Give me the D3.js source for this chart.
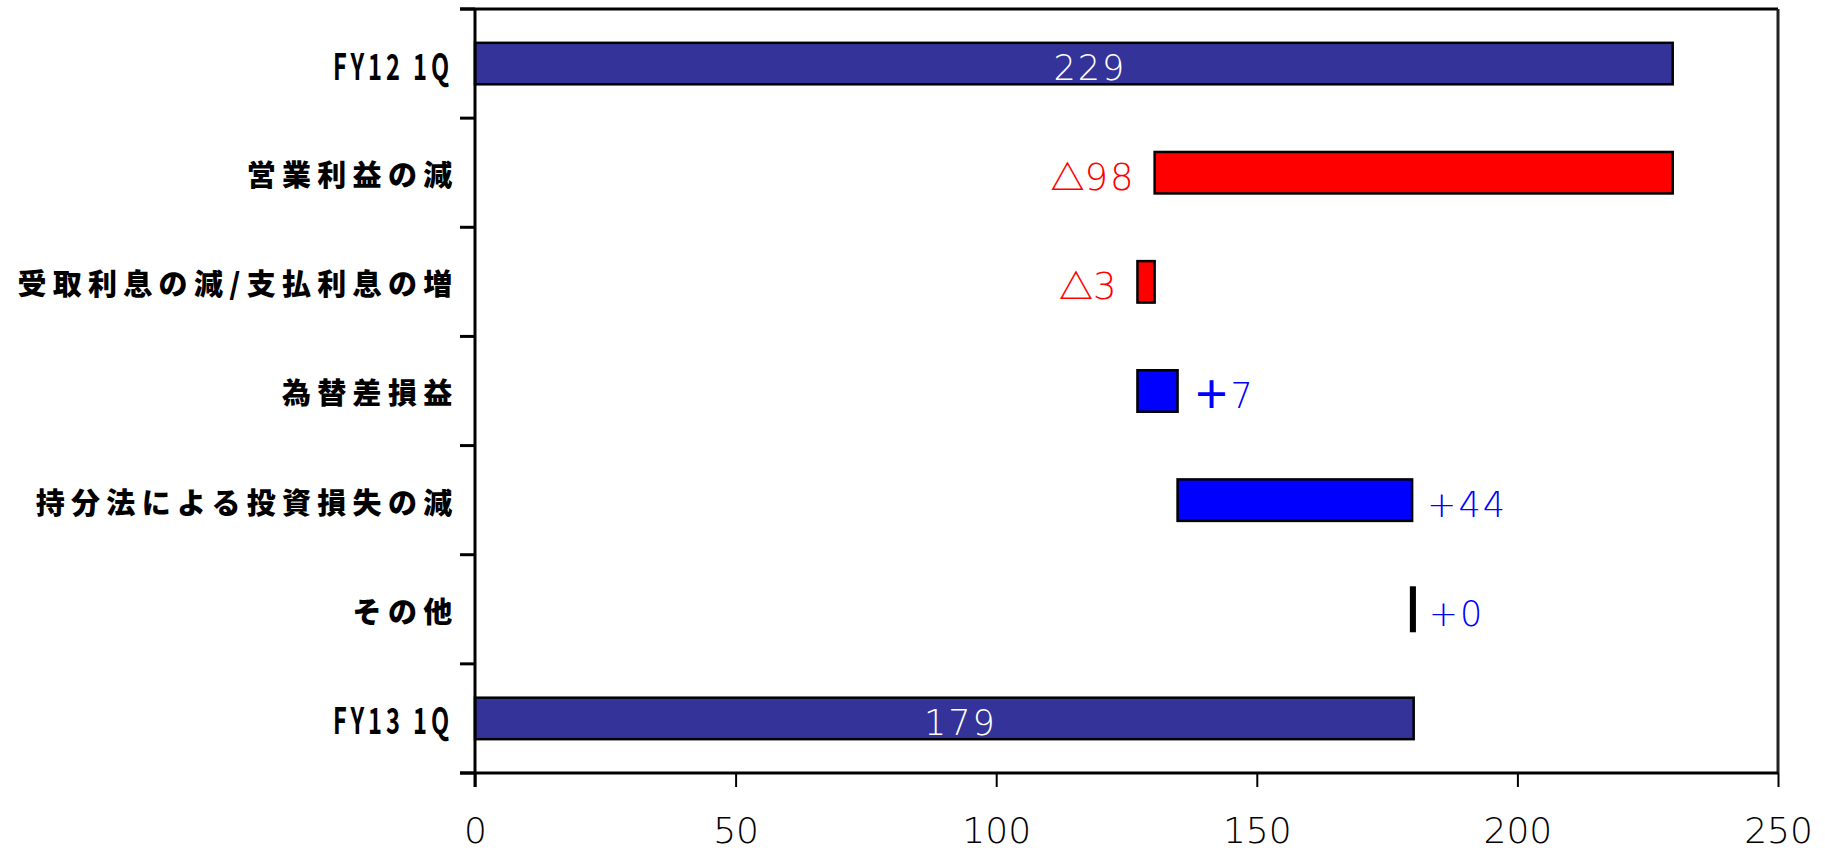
<!DOCTYPE html>
<html>
<head>
<meta charset="utf-8">
<script src="https://cdn.jsdelivr.net/npm/d3@7"></script>
<style>
  html, body { margin: 0; padding: 0; background: #fff; }
  svg { display: block; }
</style>
</head>
<body>
<svg id="chart" width="1825" height="852"></svg>
<script>
// ---- data ----
const categories = ["FY12 1Q", "営業利益の減", "受取利息の減/支払利息の増", "為替差損益", "持分法による投資損失の減", "その他", "FY13 1Q"];
const startValue = 229.8;
const deltas = [-99.4, -3.3, 7.7, 45.0, 0.3];
const endValue = 180.1;
const valueLabels = ["229", "△98", "△3", "＋7", "+44", "+0", "179"];
const xTicks = [0, 50, 100, 150, 200, 250];

// ---- layout ----
const W = 1825, H = 852;
const margin = { top: 9, right: 47, bottom: 79, left: 475 };
const iw = W - margin.left - margin.right;
const ih = H - margin.top - margin.bottom;

const svg = d3.select("#chart");
const g = svg.append("g").attr("transform", `translate(${margin.left},${margin.top})`);

const x = d3.scaleLinear().domain([0, 250]).range([0, iw]);
const y = d3.scaleBand().domain(categories).range([0, ih]).paddingInner(0.62).paddingOuter(0.31);
const step = y.step();

// build waterfall rows
const rows = [];
rows.push({ cat: categories[0], x0: 0, x1: startValue, kind: "total", label: valueLabels[0] });
let cum = startValue;
deltas.forEach((d, i) => {
  const a = cum, b = cum + d;
  rows.push({ cat: categories[i + 1], x0: Math.min(a, b), x1: Math.max(a, b), kind: d < 0 ? "neg" : "pos", delta: d, label: valueLabels[i + 1] });
  cum = b;
});
rows.push({ cat: categories[6], x0: 0, x1: endValue, kind: "total", label: valueLabels[6] });

const fill = { total: "#333399", neg: "#FF0000", pos: "#0000FF" };

// frame: top and right
g.append("line").attr("x1", -15).attr("x2", iw).attr("y1", 0).attr("y2", 0)
  .attr("stroke", "#000").attr("stroke-width", 3);
g.append("line").attr("x1", iw).attr("x2", iw).attr("y1", 0).attr("y2", ih)
  .attr("stroke", "#222").attr("stroke-width", 3);

// bars
g.selectAll("rect.bar").data(rows).join("rect")
  .attr("class", "bar")
  .attr("x", d => x(d.x0))
  .attr("width", d => Math.max(x(d.x1) - x(d.x0), 0))
  .attr("y", d => y(d.cat))
  .attr("height", y.bandwidth())
  .attr("fill", d => fill[d.kind])
  .attr("stroke", "#000")
  .attr("stroke-width", d => (x(d.x1) - x(d.x0) < 3 ? 4.5 : 2.5));

// value labels
const lab = g.selectAll("text.val").data(rows).join("text")
  .attr("class", "val")
  .attr("font-family", "'DejaVu Sans', 'Noto Sans CJK JP', sans-serif")
  .attr("font-weight", 200)
  .attr("font-size", d => d.kind === "neg" ? 37 : 35)
  .attr("letter-spacing", 2)
  .attr("dy", "0.36em")
  .attr("y", d => y(d.cat) + y.bandwidth() / 2 + 4);

lab.each(function (d) {
  const t = d3.select(this);
  // split label into symbol runs (CJK symbols drawn heavier) and plain runs
  const parts = d.label.match(/[^\x00-\x7F]+|[\x00-\x7F]+/g) || [];
  parts.forEach(p => {
    const ts = t.append("tspan").text(p);
    if (/[^\x00-\x7F]/.test(p)) {
      ts.attr("font-family", "'Noto Sans CJK JP', sans-serif")
        .attr("font-weight", 700)
        .attr("font-size", d.kind === "neg" ? 34 : 38)
        .attr("letter-spacing", 0);
    }
  });
});

lab.filter(d => d.kind === "total")
  .attr("fill", "#fff")
  .attr("text-anchor", "middle")
  .attr("x", d => x(d.x1 / 2) + 16);
lab.filter(d => d.kind === "neg")
  .attr("fill", "#FF0000")
  .attr("text-anchor", "end")
  .attr("x", d => x(d.x0) - 19);
lab.filter(d => d.kind === "pos")
  .attr("fill", "#0000FF")
  .attr("text-anchor", "start")
  .attr("x", d => x(d.x1) + 15);

// left axis line and ticks at band boundaries
g.append("line").attr("x1", 0).attr("x2", 0).attr("y1", 0).attr("y2", ih + 14)
  .attr("stroke", "#000").attr("stroke-width", 3);
g.selectAll("line.ytick").data(d3.range(categories.length + 1)).join("line")
  .attr("class", "ytick")
  .attr("x1", -15).attr("x2", 0)
  .attr("y1", i => i * step).attr("y2", i => i * step)
  .attr("stroke", "#000").attr("stroke-width", 3);

// category labels
const isAscii = s => /^[\x00-\x7F]+$/.test(s);
g.selectAll("text.cat").data(categories).join("text")
  .attr("class", "cat")
  .attr("font-family", "'Noto Sans CJK JP', sans-serif")
  .attr("font-weight", d => isAscii(d) ? 700 : 900)
  .attr("font-size", d => isAscii(d) ? 36 : 29)
  .attr("text-anchor", "end")
  .attr("x", d => isAscii(d) ? -22 : -16.5)
  .attr("y", d => y(d) + y.bandwidth() / 2 + 3)
  .attr("dy", "0.36em")
  .attr("letter-spacing", d => isAscii(d) ? 6 : 6.3)
  .each(function (d) {
    if (isAscii(d)) {
      d3.select(this).attr("textLength", 120).attr("lengthAdjust", "spacingAndGlyphs");
    }
  })
  .text(d => d);

// x axis
const xAxis = g.append("g").attr("transform", `translate(0,${ih})`)
  .call(d3.axisBottom(x).tickValues(xTicks).tickSize(14).tickPadding(30).tickFormat(d3.format("d")));
xAxis.select(".domain").remove();
xAxis.selectAll(".tick line").attr("stroke", "#000").attr("stroke-width", 2);
xAxis.selectAll(".tick text")
  .attr("font-family", "'DejaVu Sans', sans-serif")
  .attr("font-weight", 200)
  .attr("font-size", 36)
  .attr("fill", "#000");
g.append("line").attr("x1", -15).attr("x2", iw).attr("y1", ih).attr("y2", ih)
  .attr("stroke", "#000").attr("stroke-width", 3);
</script>
</body>
</html>
